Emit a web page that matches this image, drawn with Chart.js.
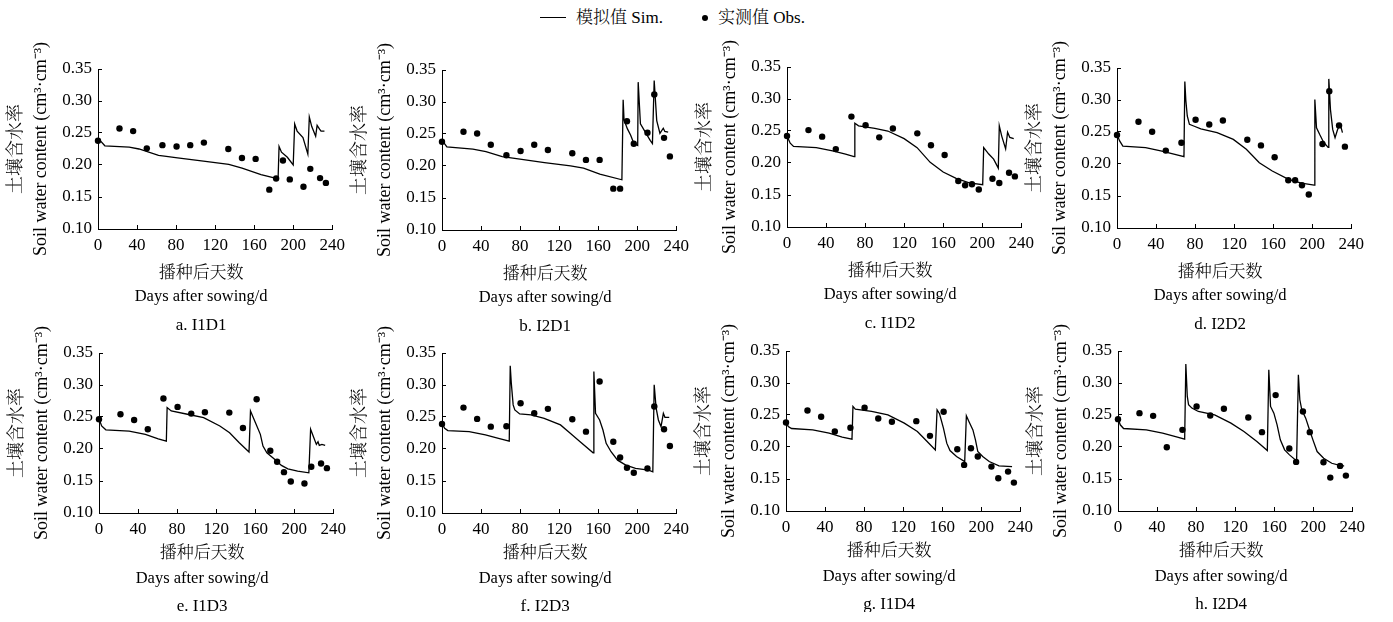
<!DOCTYPE html>
<html>
<head>
<meta charset="utf-8">
<script src="https://cdn.jsdelivr.net/npm/chart.js@4.4.1/dist/chart.umd.min.js"></script>
<style>
  body { margin: 0; background: #fff; width: 1393px; height: 622px; position: relative; overflow: hidden;
         font-family: "Liberation Serif", "Noto Serif CJK SC", "Noto Sans CJK SC", serif; font-weight: 300; color: #000; }
  canvas { position: absolute; }
  .lg { position: absolute; top: 8px; font-size: 17px; line-height: 20px; white-space: nowrap; }
</style>
</head>
<body>
<div class="lg" style="left:540px;top:17px;width:26px;border-top:1.3px solid #000;height:0"></div>
<div class="lg" style="left:576px">模拟值 Sim.</div>
<div class="lg" style="left:702px;top:15px;width:6px;height:6px;border-radius:50%;background:#000"></div>
<div class="lg" style="left:718px">实测值 Obs.</div>

<script>
// axes
const xTicks = [0, 40, 80, 120, 160, 200, 240];
const yTicks = [0.10, 0.15, 0.20, 0.25, 0.30, 0.35];

// measurement days (shared by all treatments)
const obsDays = [0, 22, 36, 50, 66, 80.5, 94.5, 108.5, 133.5, 147.5, 161.5, 175.5, 182.5, 189.5, 196.5, 210.5, 217.5, 227.5, 233.5];

// observed soil water content
const obsA = [0.238, 0.257, 0.253, 0.226, 0.231, 0.229, 0.231, 0.235, 0.225, 0.211, 0.2095, 0.1615, 0.179, 0.207, 0.1775, 0.166, 0.194, 0.1795, 0.172];
const obsB = [0.238, 0.2534, 0.2508, 0.2333, 0.2167, 0.2235, 0.2333, 0.225, 0.220, 0.2095, 0.2095, 0.1646, 0.1646, 0.270, 0.2348, 0.2519, 0.3118, 0.244, 0.215];
const obsC = [0.2422, 0.2514, 0.2412, 0.2217, 0.2725, 0.2591, 0.2401, 0.254, 0.2463, 0.2278, 0.2124, 0.1719, 0.1652, 0.1667, 0.1585, 0.1755, 0.1688, 0.1847, 0.1791];
const obsD = [0.2452, 0.266, 0.2504, 0.2209, 0.2333, 0.2691, 0.2618, 0.268, 0.238, 0.2291, 0.2105, 0.1747, 0.1747, 0.1669, 0.1524, 0.2312, 0.3137, 0.2603, 0.2271];
const obsE = [0.2464, 0.2543, 0.2454, 0.2308, 0.2789, 0.2658, 0.2553, 0.2574, 0.2569, 0.2328, 0.2778, 0.1973, 0.18, 0.1638, 0.1492, 0.146, 0.1722, 0.1774, 0.1701];
const obsF = [0.2391, 0.2647, 0.247, 0.2349, 0.2355, 0.2715, 0.2559, 0.2627, 0.2464, 0.2271, 0.3055, 0.2114, 0.1868, 0.1706, 0.1628, 0.1696, 0.2663, 0.2308, 0.2046];
const obsG = [0.2383, 0.2571, 0.2472, 0.2242, 0.23, 0.2613, 0.2446, 0.2394, 0.2404, 0.2174, 0.255, 0.1966, 0.172, 0.1981, 0.1851, 0.1694, 0.1511, 0.1616, 0.1444];
const obsH = [0.2435, 0.2529, 0.2487, 0.1997, 0.2268, 0.2634, 0.2493, 0.2597, 0.2461, 0.2232, 0.2811, 0.1976, 0.1767, 0.2555, 0.2232, 0.1762, 0.1522, 0.1705, 0.1553];

// simulated curves
const simDaysA = [0, 2.3, 7, 32, 42, 62, 68, 81.5, 108, 134, 147.6, 167, 182.6, 184.5, 185.5, 188, 194, 200, 201.5, 204, 210, 215, 216.5, 219, 223, 224.5, 227, 228.5, 232];
const simValsA = [0.241, 0.238, 0.230, 0.228, 0.225, 0.215, 0.214, 0.211, 0.206, 0.201, 0.195, 0.185, 0.179, 0.178, 0.229, 0.220, 0.212, 0.200, 0.264, 0.253, 0.243, 0.217, 0.275, 0.260, 0.245, 0.262, 0.256, 0.253, 0.253];

const simDaysB = [0, 5, 31.7, 45, 61.7, 81.7, 105, 131.7, 145, 161.7, 184.3, 185.6, 186.5, 190, 193.3, 196.6, 200.5, 201, 203.3, 208.3, 213.3, 215.6, 217.4, 220, 223.3, 226.7, 228.3, 231.7];
const simValsB = [0.2405, 0.230, 0.2265, 0.2224, 0.2147, 0.2105, 0.2054, 0.2002, 0.1966, 0.1873, 0.1785, 0.3035, 0.272, 0.258, 0.248, 0.235, 0.232, 0.331, 0.266, 0.253, 0.240, 0.235, 0.3335, 0.271, 0.251, 0.259, 0.254, 0.253];

const simDaysC = [0, 3.3, 6.7, 30, 46.7, 60, 68.7, 69.5, 73.3, 90, 103.3, 120, 133.3, 146.7, 160, 173.3, 186.7, 200.5, 201.5, 206.7, 211.7, 216.5, 217.5, 220, 224, 226, 228.3, 232.3];
const simValsC = [0.242, 0.231, 0.226, 0.224, 0.219, 0.214, 0.210, 0.262, 0.258, 0.254, 0.250, 0.238, 0.224, 0.201, 0.186, 0.176, 0.169, 0.166, 0.224, 0.214, 0.206, 0.192, 0.258, 0.242, 0.222, 0.248, 0.240, 0.238];

const simDaysD = [0, 2.7, 6, 29.3, 46, 59.3, 68.6, 69.5, 70.5, 72, 74.2, 79.2, 85.9, 102.5, 119.2, 132.5, 145.8, 159.1, 175.8, 189, 202, 202.7, 204.4, 207.7, 211, 213.4, 216.3, 217, 218.7, 221, 223.4, 226, 228.7, 231];
const simValsD = [0.246, 0.236, 0.228, 0.2255, 0.220, 0.215, 0.2115, 0.329, 0.300, 0.275, 0.262, 0.259, 0.255, 0.249, 0.2385, 0.223, 0.202, 0.189, 0.176, 0.170, 0.167, 0.3007, 0.2566, 0.246, 0.236, 0.231, 0.226, 0.333, 0.285, 0.254, 0.241, 0.254, 0.262, 0.249];

const simDaysE = [0, 2.7, 7, 30.9, 47.5, 60.7, 69, 69.8, 74, 90.6, 107.2, 123.8, 133.8, 143.7, 153.7, 155.2, 160.3, 165.3, 168, 172, 180.2, 186.9, 193.5, 203.5, 215, 216.8, 220.1, 222.7, 224.4, 225.7, 228.4, 231.7];
const simValsE = [0.2475, 0.236, 0.230, 0.228, 0.223, 0.216, 0.2124, 0.2647, 0.2595, 0.2543, 0.2491, 0.236, 0.2255, 0.2098, 0.1952, 0.2595, 0.2412, 0.2229, 0.2046, 0.1941, 0.1837, 0.1743, 0.169, 0.1654, 0.1628, 0.2308, 0.2177, 0.2072, 0.2114, 0.2057, 0.2072, 0.2057];

const simDaysF = [0, 2.7, 6, 27.8, 44.5, 57.9, 68.9, 69.9, 71, 72.9, 74.6, 79.6, 91.3, 104.7, 121.4, 131.4, 141.5, 154.8, 155.6, 157.3, 161.5, 164.9, 168.2, 173.2, 179.9, 188.3, 198.3, 211.7, 216, 217.4, 219.4, 221.7, 224.4, 226.8, 228.4, 232.8];
const simValsF = [0.240, 0.2323, 0.2287, 0.2271, 0.2219, 0.2166, 0.2124, 0.3301, 0.3029, 0.2689, 0.2611, 0.2548, 0.2532, 0.248, 0.2376, 0.2245, 0.2114, 0.1941, 0.3212, 0.2559, 0.2454, 0.2297, 0.2088, 0.1957, 0.1826, 0.1748, 0.1696, 0.1669, 0.1643, 0.3003, 0.2637, 0.2454, 0.2349, 0.2558, 0.2495, 0.2495];

const simDaysG = [0, 2.3, 5.7, 27.4, 44.2, 57.6, 67.6, 68.6, 71, 87.7, 104.4, 121.2, 134.6, 144.6, 153, 154.8, 157.3, 161.3, 164.7, 168, 174.7, 183.1, 184.8, 187.4, 191.5, 194.1, 196.5, 201.5, 208.2, 218.2, 231.6];
const simValsG = [0.2399, 0.232, 0.2289, 0.2268, 0.2216, 0.2153, 0.2122, 0.2634, 0.2592, 0.2555, 0.2503, 0.2373, 0.2242, 0.2086, 0.1955, 0.2581, 0.2519, 0.2294, 0.206, 0.1945, 0.1851, 0.1773, 0.2487, 0.2399, 0.2268, 0.2112, 0.1929, 0.1851, 0.1773, 0.1705, 0.1694];

const simDaysH = [0, 2.3, 5.7, 29, 45.7, 59, 68.3, 69.5, 71, 72.3, 75.7, 82.3, 99, 115.7, 129, 142.3, 153, 154.5, 156.3, 159.7, 163, 166.3, 170.7, 175.7, 183, 184.8, 186.3, 188.3, 192.3, 195.7, 199.7, 204, 210.7, 219, 229, 231.7];
const simValsH = [0.2451, 0.2347, 0.2289, 0.2268, 0.2216, 0.2164, 0.2122, 0.3296, 0.279, 0.266, 0.2608, 0.2555, 0.2503, 0.2373, 0.2242, 0.2086, 0.1945, 0.3208, 0.2634, 0.2529, 0.2347, 0.2112, 0.1955, 0.1877, 0.1783, 0.3129, 0.2738, 0.2581, 0.2451, 0.2294, 0.2112, 0.1929, 0.1825, 0.1746, 0.1705, 0.1705];

const yTitle = ['土壤含水率', 'Soil water content (cm³·cm⁻³)'];
const xTitleCn = '播种后天数';
const xTitleEn = 'Days after sowing/d';

const panels = [
    { caption: 'a. I1D1', obs: obsA, simX: simDaysA, simY: simValsA, left: 98,   top: 69,  row: 0 },
    { caption: 'b. I2D1', obs: obsB, simX: simDaysB, simY: simValsB, left: 442,  top: 70,  row: 0 },
    { caption: 'c. I1D2', obs: obsC, simX: simDaysC, simY: simValsC, left: 787,  top: 67,  row: 0 },
    { caption: 'd. I2D2', obs: obsD, simX: simDaysD, simY: simValsD, left: 1117, top: 68,  row: 0 },
    { caption: 'e. I1D3', obs: obsE, simX: simDaysE, simY: simValsE, left: 99,   top: 353, row: 1 },
    { caption: 'f. I2D3', obs: obsF, simX: simDaysF, simY: simValsF, left: 442,  top: 353, row: 1 },
    { caption: 'g. I1D4', obs: obsG, simX: simDaysG, simY: simValsG, left: 786,  top: 351, row: 1 },
    { caption: 'h. I2D4', obs: obsH, simX: simDaysH, simY: simValsH, left: 1118, top: 351, row: 1 }
];

// distance of the text lines below the plot bottom, per row
const rowText = [
    { cn: 45, en: 68, cap: 97 },
    { cn: 41, en: 66, cap: 94 }
];

const FONT = '"Liberation Serif", "Noto Serif CJK SC", "Noto Sans CJK SC", serif';
const Y_W = 98, PLOT_W = 241, PLOT_H = 160, PAD_TOP = 39, X_H = 30, CANVAS_W = 355, CANVAS_H = 300;

// draws the two-line x title and the panel caption
const panelText = {
    id: 'panelText',
    afterDraw(chart, args, opts) {
        const { ctx, chartArea } = chart;
        const cx = (chartArea.left + chartArea.right) / 2 - 14;
        const t = rowText[opts.row];
        ctx.save();
        ctx.fillStyle = '#000';
        ctx.textAlign = 'center';
        ctx.textBaseline = 'middle';
        ctx.font = '300 17px ' + FONT;
        ctx.fillText(xTitleCn, cx, chartArea.bottom + t.cn);
        ctx.font = '300 16.5px ' + FONT;
        ctx.fillText(xTitleEn, cx, chartArea.bottom + t.en);
        ctx.font = '300 17px ' + FONT;
        ctx.fillText(opts.caption, cx, chartArea.bottom + t.cap);
        ctx.restore();
    }
};

panels.forEach(p => {
    const canvas = document.createElement('canvas');
    canvas.width = CANVAS_W;
    canvas.height = CANVAS_H;
    canvas.style.left = (p.left - Y_W) + 'px';
    canvas.style.top = (p.top - PAD_TOP) + 'px';
    document.body.appendChild(canvas);

    const simData = p.simX.map((d, i) => ({ x: d, y: p.simY[i] }));
    const obsData = obsDays.map((d, i) => ({ x: d, y: p.obs[i] }));

    new Chart(canvas.getContext('2d'), {
        type: 'scatter',
        data: {
            datasets: [
                {
                    label: '模拟值 Sim.',
                    data: simData,
                    showLine: true,
                    borderColor: '#000',
                    borderWidth: 1.3,
                    pointRadius: 0,
                    tension: 0,
                    clip: false
                },
                {
                    label: '实测值 Obs.',
                    data: obsData,
                    pointRadius: 3.2,
                    pointBackgroundColor: '#000',
                    pointBorderWidth: 0,
                    clip: false
                }
            ]
        },
        options: {
            responsive: false,
            animation: false,
            devicePixelRatio: 1,
            layout: {
                padding: { left: 0, top: PAD_TOP, right: CANVAS_W - Y_W - PLOT_W, bottom: CANVAS_H - PAD_TOP - PLOT_H - X_H }
            },
            plugins: {
                legend: { display: false },
                tooltip: { enabled: false },
                panelText: { caption: p.caption, row: p.row }
            },
            scales: {
                x: {
                    type: 'linear',
                    min: 0,
                    max: 240,
                    afterBuildTicks: s => { s.ticks = xTicks.map(v => ({ value: v })); },
                    afterFit: s => { s.height = X_H; },
                    border: { display: true, color: '#000', width: 1 },
                    grid: { display: true, drawOnChartArea: false, drawTicks: true, tickLength: -4, color: '#000', lineWidth: 1 },
                    ticks: { color: '#000', font: { family: FONT, size: 17, weight: 300 }, padding: 10, maxRotation: 0, autoSkip: false }
                },
                y: {
                    type: 'linear',
                    min: 0.10,
                    max: 0.35,
                    afterBuildTicks: s => { s.ticks = yTicks.map(v => ({ value: v })); },
                    afterFit: s => { s.width = Y_W; },
                    border: { display: true, color: '#000', width: 1 },
                    grid: { display: true, drawOnChartArea: false, drawTicks: true, tickLength: -4, color: '#000', lineWidth: 1 },
                    ticks: {
                        color: '#000',
                        font: { family: FONT, size: 17, weight: 300 },
                        padding: 10,
                        callback: v => v.toFixed(2)
                    },
                    title: {
                        display: true,
                        text: yTitle,
                        color: '#000',
                        font: { family: FONT, size: 18, weight: 300, lineHeight: 25 / 18 },
                        padding: { top: 3.5, bottom: 0 }
                    }
                }
            }
        },
        plugins: [panelText]
    });
});
</script>
</body>
</html>
